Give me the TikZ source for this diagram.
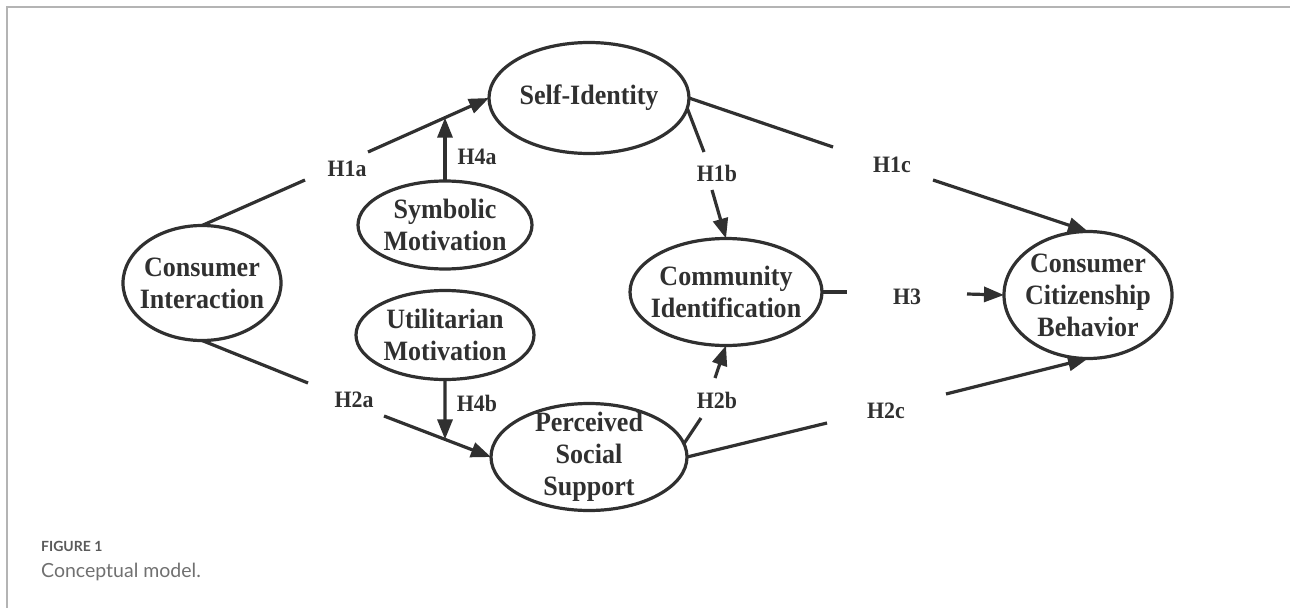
\documentclass[tikz,border=0pt]{standalone}
\usepackage{fontspec}
\setmainfont{Liberation Serif}
\newfontfamily\elfont[FakeStretch=0.93]{Liberation Serif}
\newfontfamily\capfont{Lato}
\usetikzlibrary{shapes.geometric,arrows.meta}
\definecolor{ink}{HTML}{303030}
\definecolor{framegray}{HTML}{B4B4B4}
\definecolor{capdark}{HTML}{5A5A5A}
\definecolor{caplight}{HTML}{707070}
\begin{document}
\begin{tikzpicture}[x=1pt,y=-1pt,
  ell/.style={ellipse,draw=ink,line width=3.2pt,inner sep=0pt,outer sep=0pt},
  eltext/.style={text=ink,font=\elfont\fontsize{28}{32}\selectfont\bfseries,align=center,inner sep=0pt},
  hyp/.style={text=ink,font=\elfont\fontsize{23.5}{26}\selectfont\bfseries,inner sep=0pt},
  conn/.style={draw=ink,line width=3.2pt},
  arr/.style={conn,-{Triangle[length=20pt,width=15pt]}},
  frame/.style={draw=framegray,line width=1.6pt},
]
\useasboundingbox (0,0) rectangle (1290,608);
% frame
\coordinate (fTL) at (7,7);
\coordinate (fTR) at (1290,7);
\coordinate (fBL) at (7,608);
\draw[frame] (fTR) -- (fTL) -- (fBL);

% ellipses
\node[ell,minimum width=158pt,minimum height=115pt,label={[eltext]center:{Consumer\\Interaction}}] (ci) at (202,283) {};
\node[ell,minimum width=174pt,minimum height=88pt,label={[eltext]center:{Symbolic\\Motivation}}] (sm) at (445,225) {};
\node[ell,minimum width=178pt,minimum height=89pt,label={[eltext]center:{Utilitarian\\Motivation}}] (um) at (445,335) {};
\node[ell,minimum width=200pt,minimum height=111pt,label={[eltext]center:{Self-Identity}}] (si) at (589,98) {};
\node[ell,minimum width=196pt,minimum height=107pt,label={[eltext]center:{Perceived\\Social\\Support}}] (pss) at (589,457) {};
\node[ell,minimum width=192pt,minimum height=107pt,label={[eltext]center:{Community\\Identification}}] (cid) at (726,292) {};
\node[ell,minimum width=168pt,minimum height=127pt,label={[eltext]center:{Consumer\\Citizenship\\Behavior}}] (ccb) at (1088,295) {};

% hypothesis labels
\node[hyp] (lh1a) at (347,169) {H1a};
\node[hyp] (lh4a) at (477,157) {H4a};
\node[hyp] (lh2a) at (354,400) {H2a};
\node[hyp] (lh4b) at (477,403) {H4b};
\node[hyp] (lh1b) at (717,173) {H1b};
\node[hyp] (lh1c) at (892,165) {H1c};
\node[hyp] (lh3) at (907,297) {H3};
\node[hyp] (lh2b) at (717,400) {H2b};
\node[hyp] (lh2c) at (886,411) {H2c};

% gap end points
\coordinate (h1aA) at (305,180);
\coordinate (h1aB) at (368,152);
\coordinate (h2aA) at (308,383);
\coordinate (h2aB) at (384,416);
\coordinate (h1bA) at (704,152);
\coordinate (h1bB) at (712,190);
\coordinate (h1cA) at (833,147);
\coordinate (h1cB) at (933,180);
\coordinate (h3A) at (847,292);
\coordinate (h3B) at (967,294);
\coordinate (h2bA) at (701,418);
\coordinate (h2bB) at (715,378);
\coordinate (h2cA) at (827,423);
\coordinate (h2cB) at (946,394);

% connectors
\draw[conn] (ci.north) -- (h1aA);
\draw[arr] (h1aB) -- (si.west);
\coordinate (h4aT) at (intersection of h1aB--si.west and sm.south--sm.north);
\draw[arr] (sm.north) -- (h4aT);

\draw[conn] (ci.south) -- (h2aA);
\draw[arr] (h2aB) -- (pss.west);
\coordinate (h4bT) at (intersection of h2aB--pss.west and um.north--um.south);
\draw[arr] (um.south) -- (h4bT);

\draw[conn] (si.-6) -- (h1bA);
\draw[arr] (h1bB) -- (cid.north);

\draw[conn] (si.east) -- (h1cA);
\draw[arr] (h1cB) -- (ccb.north);

\draw[conn] (cid.east) -- (h3A);
\draw[arr] (h3B) -- (ccb.west);

\draw[conn] (pss.8) -- (h2bA);
\draw[arr] (h2bB) -- (cid.south);

\draw[conn] (pss.east) -- (h2cA);
\draw[arr] (h2cB) -- (ccb.south);

% caption
\node[anchor=base west,inner sep=0pt,text=capdark,font=\capfont\bfseries\fontsize{14}{16}\selectfont] (figlabel) at (41,551) {FIGURE 1};
\node[anchor=base west,inner sep=0pt,text=caplight,font=\capfont\fontsize{19.5}{22}\selectfont] (figcap) at (41,577) {Conceptual model.};
\end{tikzpicture}
\end{document}
